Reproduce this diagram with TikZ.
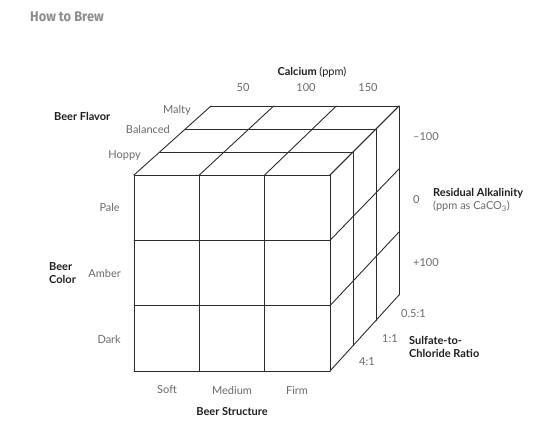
\documentclass[tikz,border=0pt]{standalone}
\usepackage{fontspec}
\setmainfont{Lato}
\newfontfamily\titlefont{Fira Sans}
\usetikzlibrary{calc}

\definecolor{cubeline}{HTML}{2B2B2B}
\definecolor{ticktext}{HTML}{6A6A6A}
\definecolor{axistext}{HTML}{1E1E1E}
\definecolor{titletext}{HTML}{8C8C8C}

\tikzset{
    cube line/.style={line width=0.9pt, draw=cubeline, line cap=round, line join=round},
    tick label/.style={font=\fontsize{11}{13}\selectfont, text=ticktext, inner sep=0pt},
    axis label/.style={font=\fontsize{11}{13}\selectfont\bfseries, text=axistext, inner sep=0pt, align=left}
}

\begin{document}
\begin{tikzpicture}[x=1pt, y=-1pt]
    \useasboundingbox (0,0) rectangle (540,423);

    % front and back faces of the cube
    \foreach \i in {0,...,3} {
        \foreach \j in {0,...,3} {
            \coordinate (f\i\j) at ({134+196*\i/3}, {175+196*\j/3});
            \coordinate (b\i\j) at ({211+188*\i/3}, {106+189*\j/3});
        }
    }

    \foreach \i in {0,...,3} {
        \draw[cube line] (f\i0) -- (f\i3);
        \draw[cube line] (f0\i) -- (f3\i);
        \draw[cube line] (f\i0) -- (b\i0);
        \draw[cube line] (f3\i) -- (b3\i);
    }
    \foreach \k in {1,2,3} {
        \draw[cube line] ($(f00)!\k/3!(b00)$) -- ($(f30)!\k/3!(b30)$)
                         -- ($(f33)!\k/3!(b33)$);
    }

    \node[font=\titlefont\fontsize{14}{16}\selectfont\bfseries, text=titletext,
          anchor=west, inner sep=0pt, xscale=0.92] (title) at (30,17) {How to Brew};

    \node[axis label] (calcium) at (312,72) {Calcium {\mdseries(ppm)}};
    \node[tick label] (ca50) at (243,88) {50};
    \node[tick label] (ca100) at (306,88) {100};
    \node[tick label] (ca150) at (368,88) {150};

    \node[axis label, anchor=west] (flavor) at (54,116) {Beer Flavor};
    \node[tick label, anchor=east] (malty) at (191,110) {Malty};
    \node[tick label, anchor=east] (balanced) at (170,129) {Balanced};
    \node[tick label, anchor=east] (hoppy) at (141,155) {Hoppy};

    \node[axis label, anchor=west] (color) at (49,273) {Beer\\Color};
    \node[tick label, anchor=east] (pale) at (120,207) {Pale};
    \node[tick label, anchor=east] (amber) at (121,273) {Amber};
    \node[tick label, anchor=east] (dark) at (121,339) {Dark};

    \node[tick label] (soft) at (167,390) {Soft};
    \node[tick label] (medium) at (232,390) {Medium};
    \node[tick label] (firm) at (297,390) {Firm};
    \node[axis label] (structure) at (232,412) {Beer Structure};

    \node[tick label, anchor=west] (ra-minus) at (413,137) {\textendash100};
    \node[tick label, anchor=west] (ra-zero) at (413,200) {0};
    \node[tick label, anchor=west] (ra-plus) at (413,263) {+100};
    \node[axis label, anchor=west] (alkalinity) at (433,200)
        {Residual Alkalinity\\{\mdseries\color{ticktext}(ppm as CaCO\textsubscript{3})}};

    \node[tick label, anchor=west] (half) at (401,314) {0.5:1};
    \node[tick label, anchor=west] (one) at (382,339) {1:1};
    \node[tick label, anchor=west] (four) at (359,362) {4:1};
    \node[axis label, anchor=west] (ratio) at (409,347) {Sulfate-to-\\Chloride Ratio};
\end{tikzpicture}
\end{document}
